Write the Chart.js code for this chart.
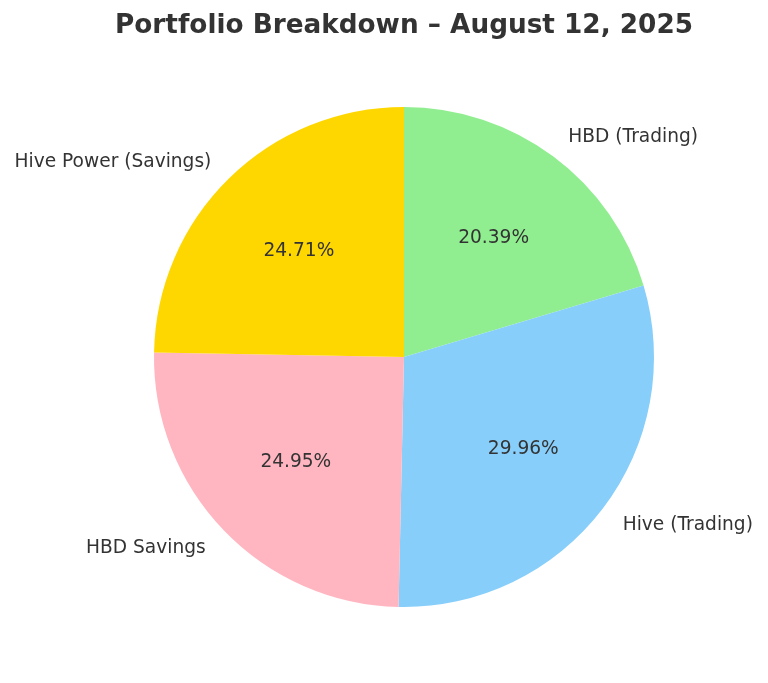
<!DOCTYPE html>
<html lang="en">
<head>
  <meta charset="UTF-8">
  <title>Portfolio Breakdown</title>
  <script src="https://cdn.jsdelivr.net/npm/chart.js"></script>
  <style>
    html, body { margin: 0; padding: 0; background: #fff; }
    #wrap { width: 768px; height: 683px; }
  </style>
</head>
<body>
  <div id="wrap"><canvas id="pieChart"></canvas></div>
  <script>
    // clockwise from the top
    const labels = ["HBD (Trading)", "Hive (Trading)", "HBD Savings", "Hive Power (Savings)"];
    const values = [20.39, 29.96, 24.95, 24.71];
    const colors = ["#90EE90", "#87CEFA", "#FFB6C1", "#FFD700"];
    const chartTitle = "Portfolio Breakdown \u2013 August 12, 2025";

    const textColor = "#333333";

    // outside labels at 1.1 r, percentages at 0.6 r
    const pieLabels = {
      id: "pieLabels",
      afterDraw(chart) {
        const ctx = chart.ctx;
        const meta = chart.getDatasetMeta(0);
        const total = values.reduce((a, b) => a + b, 0);
        ctx.save();
        ctx.fillStyle = textColor;
        ctx.textBaseline = "middle";
        meta.data.forEach((arc, i) => {
          const p = arc.getProps(["x", "y", "startAngle", "endAngle", "outerRadius"], true);
          const mid = (p.startAngle + p.endAngle) / 2;
          const cx = Math.cos(mid), cy = Math.sin(mid);
          ctx.font = "18.6px 'DejaVu Sans'";
          ctx.textAlign = cx > 0 ? "left" : "right";
          ctx.fillText(labels[i], p.x + cx * p.outerRadius * 1.1, p.y + cy * p.outerRadius * 1.1 + 1);
          ctx.textAlign = "center";
          const pct = (values[i] / total * 100).toFixed(2) + "%";
          ctx.fillText(pct, p.x + cx * p.outerRadius * 0.6, p.y + cy * p.outerRadius * 0.6 + 1);
        });
        ctx.font = "bold 26.3px 'DejaVu Sans'";
        ctx.textAlign = "center";
        ctx.fillText(chartTitle, 404, 26.5);
        ctx.restore();
      }
    };

    new Chart(document.getElementById("pieChart"), {
      type: "pie",
      data: {
        labels: labels,
        datasets: [{
          data: values,
          backgroundColor: colors,
          borderWidth: 0
        }]
      },
      options: {
        responsive: true,
        maintainAspectRatio: false,
        animation: false,
        layout: { padding: { left: 154, right: 114, top: 107, bottom: 76 } },
        plugins: {
          legend: { display: false },
          tooltip: { enabled: false },
          title: { display: false }
        }
      },
      plugins: [pieLabels]
    });
  </script>
</body>
</html>
